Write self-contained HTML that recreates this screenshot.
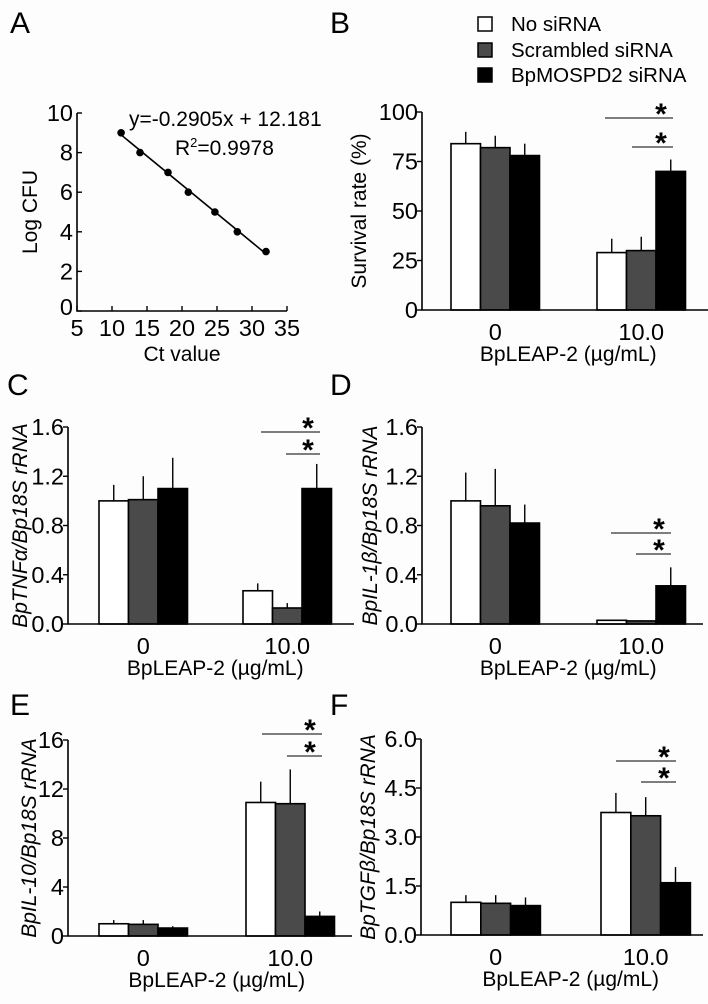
<!DOCTYPE html>
<html><head><meta charset="utf-8"><style>
html,body{margin:0;padding:0;background:#fdfdfd;}
svg{display:block;font-family:"Liberation Sans",Arial,sans-serif;}
</style></head><body>
<svg id="fig" width="708" height="1004" viewBox="0 0 708 1004" xmlns="http://www.w3.org/2000/svg">
<rect width="708" height="1004" fill="#fdfdfd"/>
<g font-size="30" fill="#000">
<text x="10" y="33">A</text>
<text x="330" y="33">B</text>
<text x="7" y="395">C</text>
<text x="330" y="395">D</text>
<text x="10" y="715">E</text>
<text x="330" y="715">F</text>
</g>
<g font-size="20.5">
<rect x="478" y="17" width="14" height="14" fill="#fff" stroke="#000" stroke-width="1.5"/>
<text x="511" y="31">No siRNA</text>
<rect x="478" y="43" width="14" height="14" fill="#4a4a4a" stroke="#000" stroke-width="1.5"/>
<text x="511" y="57">Scrambled siRNA</text>
<rect x="478" y="68" width="14" height="14" fill="#000" stroke="#000" stroke-width="1.5"/>
<text x="511" y="82">BpMOSPD2 siRNA</text>
</g>
</svg>
<script>
const NS="http://www.w3.org/2000/svg";
const svg=document.getElementById('fig');
function mk(tag,attrs,parent){const e=document.createElementNS(NS,tag);for(const k in attrs)e.setAttribute(k,attrs[k]);(parent||svg).appendChild(e);return e;}

// Panel A data
const ctValues=[11.3,14,18,20.9,24.7,27.9,32];
const logCfu=[9,8,7,6,5,4,3];
const aXTicks=[5,10,15,20,25,30,35];
const aYTicks=[0,2,4,6,8,10];
const slope=-0.2905, intercept=12.181;

// Bar panel data
const groups=["0","10.0"];
const seriesNames=["No siRNA","Scrambled siRNA","BpMOSPD2 siRNA"];
const bVals=[[84,29],[82,30],[78,70]];
const bErr=[[90,36],[88,37],[84,76]];
const bTicks=["0","25","50","75","100"];
const cVals=[[1.0,0.27],[1.01,0.13],[1.10,1.10]];
const cErr=[[1.13,0.33],[1.20,0.17],[1.35,1.30]];
const cTicks=["0.0","0.4","0.8","1.2","1.6"];
const dVals=[[1.0,0.03],[0.96,0.025],[0.82,0.31]];
const dErr=[[1.23,0.03],[1.26,0.03],[0.97,0.46]];
const dTicks=["0.0","0.4","0.8","1.2","1.6"];
const eVals=[[1.0,10.9],[0.95,10.8],[0.65,1.6]];
const eErr=[[1.3,12.6],[1.3,13.6],[0.8,2.0]];
const eTicks=["0","4","8","12","16"];
const fVals=[[1.0,3.75],[0.97,3.65],[0.9,1.6]];
const fErr=[[1.22,4.35],[1.22,4.22],[1.15,2.08]];
const fTicks=["0.0","1.5","3.0","4.5","6.0"];

const TF=23.5, AF=21;

// ---- Panel A ----
(function(){
  const g=mk('g',{});
  
  
  const x0=77,x1=287,y0=311,y1=113;
  const sx=v=>x0+(v-5)/(35-5)*(x1-x0);
  const sy=v=>y0-(v/10)*(y0-y1);
  const ax=mk('path',{d:`M${x0} ${y1}V${y0}H${x1}`,fill:'none',stroke:'#000','stroke-width':1.6},g);
  
  
  aXTicks.forEach(t=>{
    mk('line',{x1:sx(t),x2:sx(t),y1:y0,y2:y0-5,stroke:'#000','stroke-width':1.4},g);
    const tx=mk('text',{x:sx(t),y:y0+25,'text-anchor':'middle','font-size':TF},g);tx.textContent=t;
    
    
  });
  aYTicks.forEach(t=>{
    mk('line',{x1:x0,x2:x0+5,y1:sy(t),y2:sy(t),stroke:'#000','stroke-width':1.4},g);
    const tx=mk('text',{x:x0-4,y:sy(t)+(t===0?4:8),'text-anchor':'end','font-size':TF},g);tx.textContent=t;
    
    
  });
  const xs=[ctValues[0],ctValues[ctValues.length-1]];
  const ln=mk('line',{x1:sx(xs[0]),y1:sy(slope*xs[0]+intercept),x2:sx(xs[1]),y2:sy(slope*xs[1]+intercept),stroke:'#000','stroke-width':1.6},g);
  
  
  ctValues.forEach((c,i)=>{
    const p=mk('circle',{cx:sx(c),cy:sy(logCfu[i]),r:3.8,fill:'#000'},g);
    
    
  });
  const eq=mk('text',{x:129,y:126,'font-size':AF},g);eq.textContent='y=-0.2905x + 12.181';
  
  
  const r2=mk('text',{x:175,y:155,'font-size':AF},g);
  r2.innerHTML='R<tspan dy="-8" font-size="13">2</tspan><tspan dy="8">=0.9978</tspan>';
  
  
  const xt=mk('text',{x:182,y:361,'text-anchor':'middle','font-size':AF},g);xt.textContent='Ct value';
  
  
  const yt=mk('text',{transform:'translate(37,212) rotate(-90)','text-anchor':'middle','font-size':AF},g);yt.textContent='Log CFU';
  
  
})();

// ---- Bar panels ----
const fills=['#fff','#4a4a4a','#000'];
function barPanel(cfg){
  const g=mk('g',{});
  
  
  const {ax,axEnd,y0,yTop,ticks,vals,errs,starts,bw}=cfg;
  const ymax=parseFloat(ticks[ticks.length-1]);
  const sy=v=>y0-(v/ymax)*(y0-yTop);
  ticks.forEach(t=>{
    const v=parseFloat(t);
    mk('line',{x1:ax-5,x2:ax,y1:sy(v),y2:sy(v),stroke:'#000','stroke-width':1.4},g);
    const tx=mk('text',{x:ax-4,y:sy(v)+8,'text-anchor':'end','font-size':TF},g);tx.textContent=t;
    
    
  });
  groups.forEach((gl,gi)=>{
    seriesNames.forEach((s,si)=>{
      const x=starts[gi]+si*bw;
      const e=errs[si][gi];
      const cx=x+bw/2;
      mk('line',{x1:cx,x2:cx,y1:sy(vals[si][gi]),y2:sy(e),stroke:'#000','stroke-width':1.4},g);
      const r=mk('rect',{x:x,y:sy(vals[si][gi]),width:bw,height:Math.max(0.5,sy(0)-sy(vals[si][gi])),fill:fills[si],stroke:'#000','stroke-width':1.6},g);
      
      
    });
    const c=starts[gi]+1.5*bw;
    const lab=mk('text',{x:c,y:y0+30,'text-anchor':'middle','font-size':TF},g);lab.textContent=gl;
    
    
  });
  const axes=mk('path',{d:`M${ax} ${yTop}V${y0}H${axEnd}`,fill:'none',stroke:'#000','stroke-width':1.6},g);
  
  
  cfg.sig.forEach(s=>{
    const l=mk('line',{x1:s[0],x2:s[1],y1:s[2],y2:s[2],stroke:'#000','stroke-width':0.9},g);
    
    
    const st=mk('text',{x:s[1]-12,y:s[2]+6,'text-anchor':'middle','font-size':30,'font-weight':'bold'},g);st.textContent='*';
    
    
  });
  const mid=(starts[0]+starts[1]+3*bw)/2;
  const xt=mk('text',{x:mid,y:y0+51,'text-anchor':'middle','font-size':AF},g);xt.textContent='BpLEAP-2 (\u00b5g/mL)';
  
  
  const yt=mk('text',{transform:`translate(${cfg.ytx},${(y0+yTop)/2}) rotate(-90)`,'text-anchor':'middle','font-size':AF,'font-style':cfg.italic?'italic':'normal'},g);yt.textContent=cfg.ytitle;
  
  
}
barPanel({name:'panel-b-survival',ax:422,axEnd:708,y0:310,yTop:112,ticks:bTicks,vals:bVals,errs:bErr,starts:[451,597],bw:29.5,
  sig:[[605,673,118],[632,673,147]],ytitle:'Survival rate (%)',ytx:366,italic:false});
barPanel({name:'panel-c-tnfa',ax:68,axEnd:354,y0:624,yTop:427,ticks:cTicks,vals:cVals,errs:cErr,starts:[99,243],bw:29.5,
  sig:[[261,320,432],[286,320,454]],ytitle:'BpTNF\u03b1/Bp18S rRNA',ytx:27,italic:true});
barPanel({name:'panel-d-il1b',ax:422,axEnd:703,y0:624,yTop:427,ticks:dTicks,vals:dVals,errs:dErr,starts:[451,597],bw:29.5,
  sig:[[611,671,533],[636,671,554]],ytitle:'BpIL-1\u03b2/Bp18S rRNA',ytx:377,italic:true});
barPanel({name:'panel-e-il10',ax:68,axEnd:352,y0:936,yTop:740,ticks:eTicks,vals:eVals,errs:eErr,starts:[99,246],bw:29.5,
  sig:[[262,322,734],[287,322,756]],ytitle:'BpIL-10/Bp18S rRNA',ytx:36,italic:true});
barPanel({name:'panel-f-tgfb',ax:421,axEnd:703,y0:935,yTop:739,ticks:fTicks,vals:fVals,errs:fErr,starts:[451,601],bw:29.8,
  sig:[[616,676,761],[641,676,782]],ytitle:'BpTGF\u03b2/Bp18S rRNA',ytx:375,italic:true});
</script>
</body></html>
